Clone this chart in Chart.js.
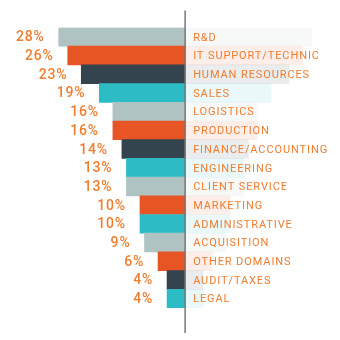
<!DOCTYPE html>
<html>
<head>
<meta charset="utf-8">
<script src="https://cdn.jsdelivr.net/npm/chart.js@4"></script>
<style>
  html, body { margin: 0; padding: 0; background: #ffffff; }
  #wrap { width: 340px; height: 340px; position: relative; }
</style>
</head>
<body>
<div id="wrap"><canvas id="chart"></canvas></div>
<script>
// Share of respondents per department (%)
const categories = [
  'R&D', 'IT SUPPORT/TECHNIC', 'HUMAN RESOURCES', 'SALES', 'LOGISTICS',
  'PRODUCTION', 'FINANCE/ACCOUNTING', 'ENGINEERING', 'CLIENT SERVICE',
  'MARKETING', 'ADMINISTRATIVE', 'ACQUISITION', 'OTHER DOMAINS',
  'AUDIT/TAXES', 'LEGAL'
];
const values = [28, 26, 23, 19, 16, 16, 14, 13, 13, 10, 10, 9, 6, 4, 4];

// Palette
const GRAY = '#afc3c2', ORANGE = '#e85525', DARK = '#33444f', TEAL = '#2dbcc6';
const barColors = [GRAY, ORANGE, DARK, TEAL, GRAY, ORANGE, DARK, TEAL, GRAY,
                   ORANGE, TEAL, GRAY, ORANGE, DARK, TEAL];
const TEXT = '#f07d2e';

function tint(hex, a) {
  const n = parseInt(hex.slice(1), 16);
  return `rgba(${n >> 16}, ${(n >> 8) & 255}, ${n & 255}, ${a})`;
}

// Draws the centre axis, the value labels and the category names
const labelsPlugin = {
  id: 'mirrorLabels',
  afterDatasetsDraw(chart) {
    const { ctx, chartArea, scales } = chart;
    const zero = scales.x.getPixelForValue(0);
    ctx.save();
    ctx.strokeStyle = '#777777';
    ctx.lineWidth = 1.5;
    ctx.beginPath();
    ctx.moveTo(zero, chartArea.top - 17);
    ctx.lineTo(zero, chartArea.bottom + 25);
    ctx.stroke();

    const left = chart.getDatasetMeta(0).data;
    ctx.fillStyle = TEXT;
    ctx.textBaseline = 'middle';
    left.forEach((bar, i) => {
      ctx.font = '500 14px Roboto';
      ctx.letterSpacing = '0.8px';
      ctx.textAlign = 'right';
      ctx.fillText(values[i] + '%', bar.x - 14, bar.y + 1);
      ctx.font = '11px Roboto';
      ctx.letterSpacing = '0.9px';
      ctx.textAlign = 'left';
      ctx.fillText(categories[i], zero + 8, bar.y + 1);
    });
    ctx.restore();
  }
};

new Chart(document.getElementById('chart'), {
  type: 'bar',
  data: {
    labels: categories,
    datasets: [
      {
        data: values.map(v => -v),
        backgroundColor: barColors,
        borderWidth: 0,
        barPercentage: 1,
        categoryPercentage: 1
      },
      {
        data: values,
        backgroundColor: barColors.map(c => tint(c, 0.1)),
        borderWidth: 0,
        barPercentage: 1,
        categoryPercentage: 1
      }
    ]
  },
  options: {
    indexAxis: 'y',
    responsive: true,
    maintainAspectRatio: false,
    animation: false,
    layout: { padding: { top: 27.5, bottom: 32, left: 0, right: 0 } },
    scales: {
      x: { display: false, stacked: true, min: -41, max: 34.3 },
      y: { display: false, stacked: true }
    },
    plugins: { legend: { display: false }, tooltip: { enabled: false } }
  },
  plugins: [labelsPlugin]
});
</script>
</body>
</html>
